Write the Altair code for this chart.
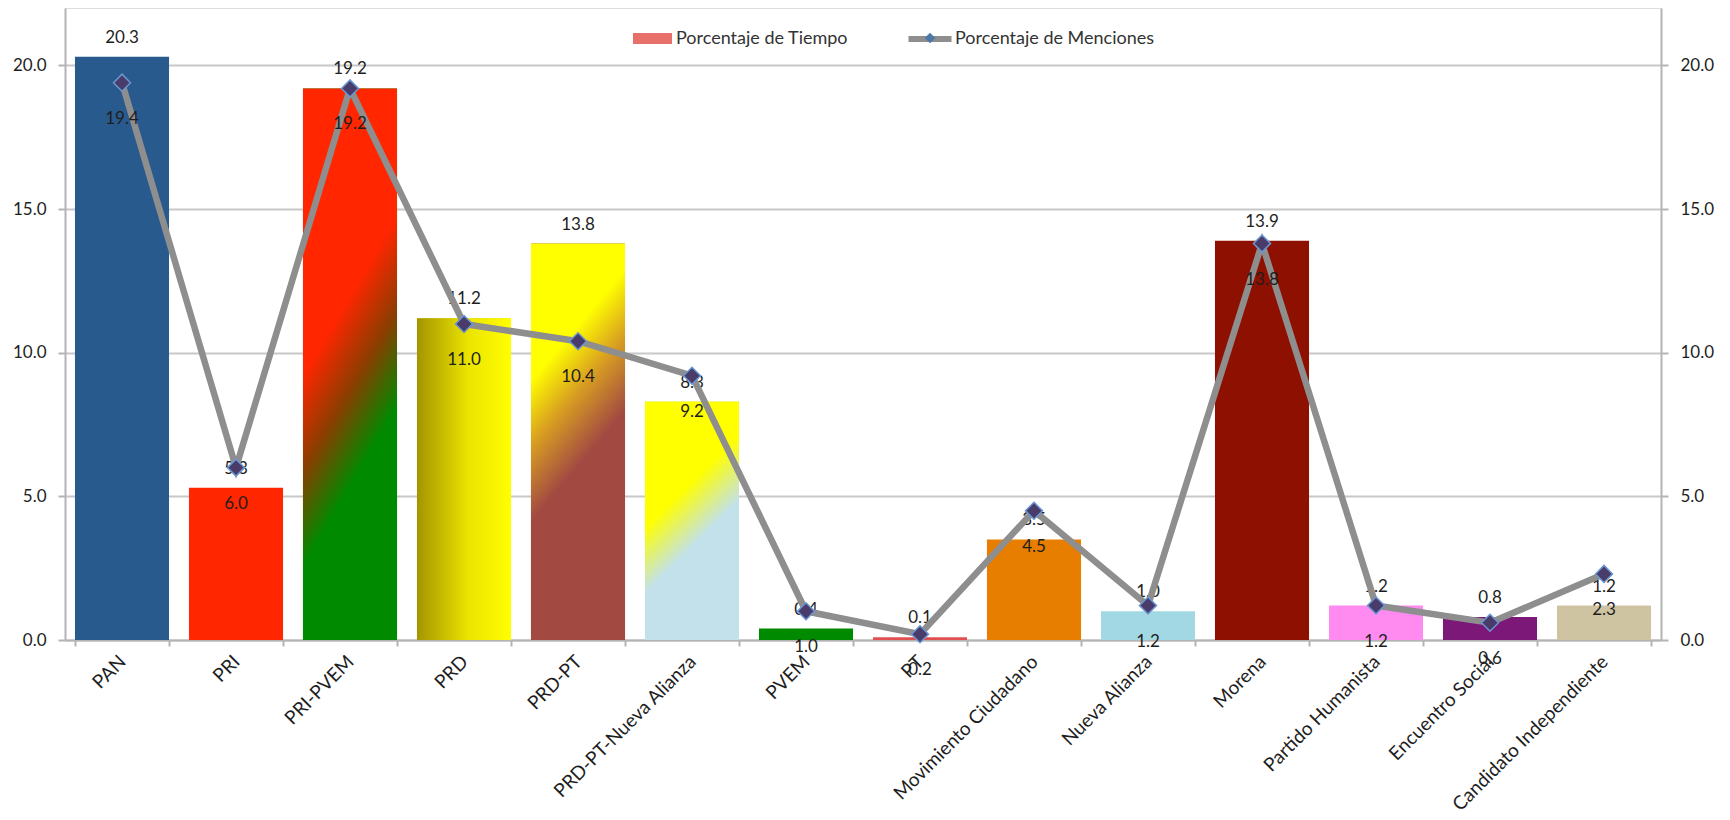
import altair as alt
import pandas as pd

partidos = ["PAN", "PRI", "PRI-PVEM", "PRD", "PRD-PT", "PRD-PT-Nueva Alianza", "PVEM", "PT",
            "Movimiento Ciudadano", "Nueva Alianza", "Morena", "Partido Humanista",
            "Encuentro Social", "Candidato Independiente"]
tiempo = [20.3, 5.3, 19.2, 11.2, 13.8, 8.3, 0.4, 0.1, 3.5, 1.0, 13.9, 1.2, 0.8, 1.2]
menciones = [19.4, 6.0, 19.2, 11.0, 10.4, 9.2, 1.0, 0.2, 4.5, 1.2, 13.8, 1.2, 0.6, 2.3]
colores = ["#285A8E", "#FF2600", "#008A00", "#D8D000", "#A24A42", "#C2E1EA", "#008A00",
           "#E05050", "#E77E00", "#A2D8E3", "#8E1000", "#FF8AF0", "#7B1878", "#CEC4A2"]
series = ["Porcentaje de Tiempo", "Porcentaje de Menciones"]

df = pd.DataFrame({"partido": partidos, "tiempo": tiempo, "menciones": menciones})
df["t_lbl"] = [f"{v:.1f}" for v in tiempo]
df["m_lbl"] = [f"{v:.1f}" for v in menciones]

FONT = "Lato"
FS = 17
TXT = "#1E1E1E"
AXC = "#B4B4B4"

def G(stops, x1, y1, x2, y2):
    return alt.LinearGradient(
        gradient="linear", x1=x1, y1=y1, x2=x2, y2=y2,
        stops=[alt.GradientStop(color=c, offset=o) for o, c in stops])

gradientes = {
    "PRI-PVEM": G([(0, "#FF2600"), (0.48, "#FF2600"), (0.64, "#8A3E00"), (0.8, "#008A00"), (1, "#008A00")], 0, 0, 0.29, 1),
    "PRD": G([(0, "#A39500"), (0.55, "#ECE400"), (1, "#FFFF00")], 0, 0, 1, 0),
    "PRD-PT": G([(0, "#FFFF00"), (0.32, "#FFFF00"), (0.47, "#D9A020"), (0.65, "#A24A42"), (1, "#A24A42")], 0, 0, 0.28, 1),
    "PRD-PT-Nueva Alianza": G([(0, "#FFFF00"), (0.46, "#FFFF00"), (0.7, "#C2E1EA"), (1, "#C2E1EA")], 0, 0, 0.39, 1),
}

xsc = alt.Scale(domain=partidos, paddingInner=0.175, paddingOuter=0.0875)
X = alt.X("partido:N", scale=xsc, sort=partidos, title=None,
          axis=alt.Axis(labelAngle=-45, tickBand="extent", domainColor=AXC, domainWidth=2,
                        tickColor=AXC, tickWidth=2, tickSize=6, labelFont=FONT, labelFontSize=19,
                        labelColor=TXT, labelPadding=6, labelOffset=-6, labelLimit=400, grid=False))
ysc = alt.Scale(domain=[0, 22], nice=False, zero=True)
left_axis = alt.Axis(values=[0, 5, 10, 15, 20], format=".1f", grid=True, gridColor="#C8C8C8",
                     gridWidth=2, domainColor=AXC, domainWidth=2, tickColor=AXC, tickWidth=2,
                     tickSize=7, labelPadding=12, labelFont=FONT, labelFontSize=FS,
                     labelColor=TXT, title=None)
right_axis = alt.Axis(orient="right", values=[0, 5, 10, 15, 20], format=".1f", grid=False,
                      domainColor=AXC, domainWidth=2, tickColor=AXC, tickWidth=2, tickSize=7,
                      labelPadding=12, labelFont=FONT, labelFontSize=FS, labelColor=TXT, title=None)

base = alt.Chart(df)

bars = base.mark_bar().encode(
    x=X, y=alt.Y("tiempo:Q", scale=ysc, axis=left_axis),
    color=alt.Color("partido:N", scale=alt.Scale(domain=partidos, range=colores), legend=None))

grad_layers = [
    base.transform_filter(alt.datum.partido == p).mark_bar(color=g).encode(
        x=X, y=alt.Y("tiempo:Q", scale=ysc, axis=None))
    for p, g in gradientes.items()
]

bar_text = base.mark_text(dy=-19, font=FONT, fontSize=FS, color=TXT).encode(
    x=X, y=alt.Y("tiempo:Q", scale=ysc, axis=None), text="t_lbl:N")

line = base.mark_line(color="#8E8E8E", strokeWidth=6.5).encode(
    x=X, y=alt.Y("menciones:Q", scale=ysc, axis=right_axis))

pts = base.mark_point(shape="diamond", filled=True, fill="#4A3C6A", stroke="#6A96D2",
                      strokeWidth=1.5, size=290, opacity=1).encode(
    x=X, y=alt.Y("menciones:Q", scale=ysc, axis=None))

line_text = base.mark_text(dy=36, font=FONT, fontSize=FS, color=TXT).encode(
    x=X, y=alt.Y("menciones:Q", scale=ysc, axis=None), text="m_lbl:N")

leg_tiempo = base.transform_filter("false").mark_point(filled=True, strokeWidth=0).encode(
    fill=alt.Fill("s1:N", scale=alt.Scale(domain=[series[0]], range=["#E8706A"]),
                  legend=alt.Legend(title=None, orient="none", legendX=568, legendY=11,
                                    symbolType="M-1,-0.28L1,-0.28L1,0.28L-1,0.28Z",
                                    symbolSize=1520, symbolStrokeWidth=0, symbolOpacity=1,
                                    labelFont=FONT, labelFontSize=18, labelColor="#333333",
                                    labelOffset=4, labelLimit=400, padding=0)))

leg_menc = base.transform_filter("false").mark_line().encode(
    x=X, y=alt.Y("menciones:Q", scale=ysc, axis=None),
    strokeDash=alt.StrokeDash("s2:N", scale=alt.Scale(domain=[series[1]], range=[[1, 0]]),
                              legend=alt.Legend(title=None, orient="none", legendX=840, legendY=6,
                                                symbolType="stroke", symbolSize=1850,
                                                symbolStrokeColor="#8E8E8E", symbolStrokeWidth=6,
                                                symbolOpacity=1, labelFont=FONT, labelFontSize=18,
                                                labelColor="#333333", labelOffset=0,
                                                labelLimit=400, padding=0)))

leg_diam = base.transform_filter("false").mark_point(filled=True).encode(
    shape=alt.Shape("s3:N", scale=alt.Scale(domain=["d"], range=["diamond"]),
                    legend=alt.Legend(title=None, orient="none", legendX=859, legendY=24,
                                      symbolSize=110, symbolFillColor="#4A3C6A",
                                      symbolStrokeColor="#6A96D2", symbolStrokeWidth=1.5,
                                      symbolOpacity=1, labelExpr="''", padding=0)))

chart = alt.layer(bars, *grad_layers, bar_text, line, pts, line_text,
                  leg_tiempo, leg_menc, leg_diam).resolve_scale(
    y="independent").properties(
    width=1596, height=632,
    autosize=alt.AutoSizeParams(type="none"),
    padding={"left": 57, "top": 0, "right": 60, "bottom": 180},
).configure_view(stroke=None).configure(background="white", font=FONT)

chart.save("out.html", embed_options={"renderer": "svg", "actions": False})
